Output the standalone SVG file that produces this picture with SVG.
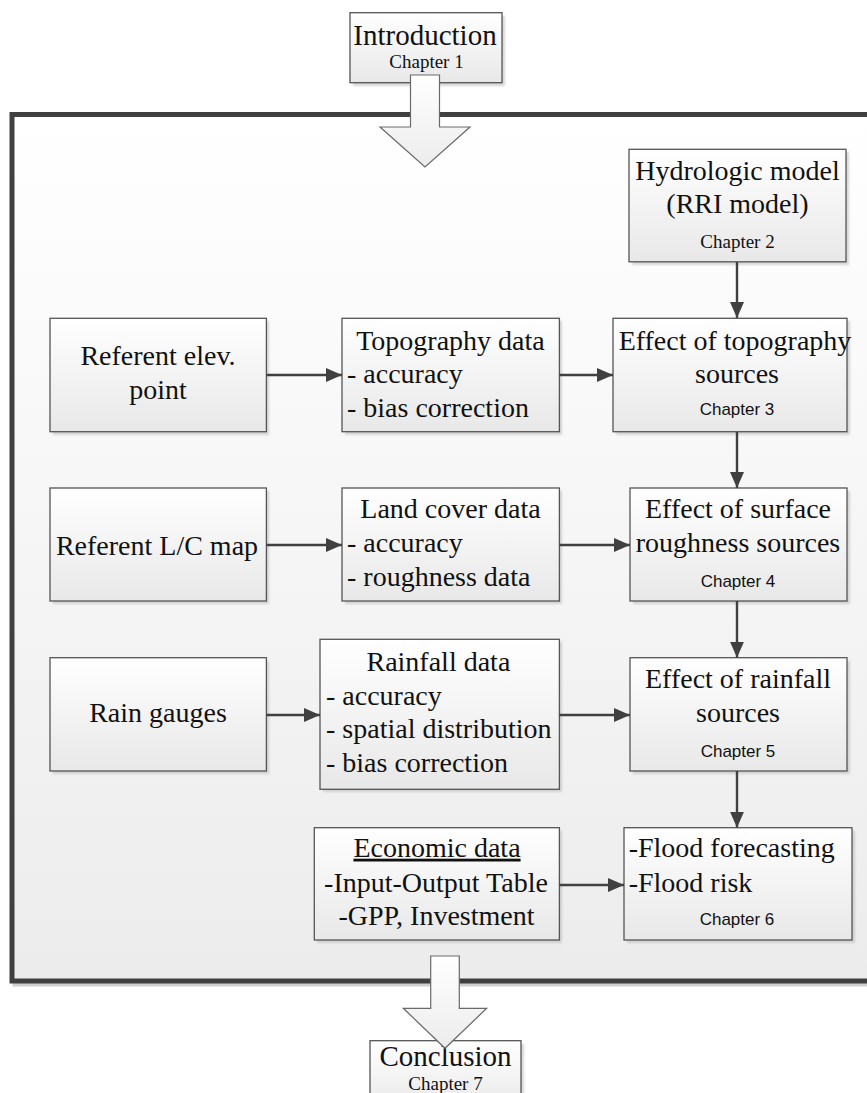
<svg xmlns="http://www.w3.org/2000/svg" width="867" height="1093" viewBox="0 0 867 1093">
<style>
.t{font-family:"Liberation Serif","Times New Roman",serif;font-size:28px;fill:#111}
.c{text-anchor:middle}
.ch{font-family:"Liberation Serif","Times New Roman",serif;font-size:19px;fill:#111}
.cs{font-family:"Liberation Sans",Arial,sans-serif;font-size:17px;fill:#111;text-anchor:middle}
.box{fill:url(#boxg);stroke:#555;stroke-width:1.3}
.sh{fill:#b8b8b8;opacity:.55;filter:url(#blur)}
.big{fill:url(#arrg);stroke:#6a6a6a;stroke-width:1.2}
.con{stroke:#404040;stroke-width:2.4;fill:none;marker-end:url(#ah)}
</style>
<defs>
<linearGradient id="boxg" x1="0" y1="0" x2="0" y2="1"><stop offset="0" stop-color="#ffffff"/><stop offset="1" stop-color="#e8e8e8"/></linearGradient>
<linearGradient id="frameg" x1="0" y1="0" x2="0" y2="1"><stop offset="0" stop-color="#ffffff"/><stop offset="1" stop-color="#ececec"/></linearGradient>
<linearGradient id="arrg" x1="0" y1="0" x2="0" y2="1"><stop offset="0" stop-color="#ffffff"/><stop offset="1" stop-color="#ececec"/></linearGradient>
<filter id="blur" x="-10%" y="-10%" width="120%" height="120%"><feGaussianBlur stdDeviation="1.2"/></filter>
<marker id="ah" markerUnits="userSpaceOnUse" markerWidth="17" markerHeight="14" refX="16" refY="7" orient="auto"><path d="M0,0 L16,7 L0,14 z" fill="#404040"/></marker>
</defs>

<g id="frame">
<rect x="15" y="117" width="900" height="867" fill="none" stroke="#cfcfcf" stroke-width="5"/>
<rect x="12" y="114.5" width="900" height="866.5" fill="url(#frameg)" stroke="#404040" stroke-width="5"/>
</g>

<g id="introduction">
<rect class="sh" x="353" y="16" width="152" height="70"/>
<rect class="box" x="350" y="12.7" width="152" height="70"/>
<text class="t c" x="425" y="45" style="font-size:29px">Introduction</text>
<text class="ch c" x="426.5" y="68">Chapter 1</text>
</g>

<g id="hydrologic">
<rect class="sh" x="632" y="152" width="217" height="113"/>
<rect class="box" x="629" y="149.3" width="217" height="112.5"/>
<text class="t c" x="737.5" y="180">Hydrologic model</text>
<text class="t c" x="737.5" y="212.7">(RRI model)</text>
<text class="ch c" x="737.5" y="248">Chapter 2</text>
</g>

<g id="referent-elev">
<rect class="sh" x="53" y="321" width="216" height="114"/>
<rect class="box" x="50" y="318.3" width="216.4" height="113.4"/>
<text class="t c" x="158" y="365">Referent elev.</text>
<text class="t c" x="158" y="399">point</text>
</g>

<g id="topography-data">
<rect class="sh" x="345" y="321" width="217" height="114"/>
<rect class="box" x="342" y="318.3" width="217.4" height="113.4"/>
<text class="t c" x="450.5" y="350">Topography data</text>
<text class="t" x="347" y="382.7">- accuracy</text>
<text class="t" x="347" y="416.7">- bias correction</text>
</g>

<g id="effect-topography">
<rect class="sh" x="616" y="321" width="234" height="114"/>
<rect class="box" x="613" y="318.3" width="234" height="113.4"/>
<text class="t c" x="735" y="350">Effect of topography</text>
<text class="t c" x="737" y="382.7">sources</text>
<text class="cs" x="737" y="415">Chapter 3</text>
</g>

<g id="referent-lc">
<rect class="sh" x="53" y="491" width="216" height="113"/>
<rect class="box" x="50" y="488" width="216.4" height="113"/>
<text class="t c" x="157" y="555">Referent L/C map</text>
</g>

<g id="land-cover-data">
<rect class="sh" x="345" y="491" width="217" height="113"/>
<rect class="box" x="342" y="488" width="217.4" height="113"/>
<text class="t c" x="450.5" y="518.3">Land cover data</text>
<text class="t" x="347" y="551.7">- accuracy</text>
<text class="t" x="347" y="585.7">- roughness data</text>
</g>

<g id="effect-surface">
<rect class="sh" x="633" y="491" width="217" height="113"/>
<rect class="box" x="630" y="488" width="217" height="113"/>
<text class="t c" x="738" y="518.3">Effect of surface</text>
<text class="t c" x="738" y="551.7">roughness sources</text>
<text class="cs" x="738" y="586.7">Chapter 4</text>
</g>

<g id="rain-gauges">
<rect class="sh" x="53" y="661" width="216" height="113"/>
<rect class="box" x="50" y="657.7" width="216.4" height="113.3"/>
<text class="t c" x="158" y="721.7">Rain gauges</text>
</g>

<g id="rainfall-data">
<rect class="sh" x="323" y="642" width="239" height="150"/>
<rect class="box" x="320" y="639.3" width="239.4" height="150"/>
<text class="t c" x="438.4" y="671">Rainfall data</text>
<text class="t" x="326" y="705">- accuracy</text>
<text class="t" x="326" y="738.3">- spatial distribution</text>
<text class="t" x="326" y="772">- bias correction</text>
</g>

<g id="effect-rainfall">
<rect class="sh" x="633" y="661" width="217" height="113"/>
<rect class="box" x="630" y="657.7" width="217" height="113.3"/>
<text class="t c" x="738" y="688.3">Effect of rainfall</text>
<text class="t c" x="738" y="721.7">sources</text>
<text class="cs" x="738" y="756.7">Chapter 5</text>
</g>

<g id="economic-data">
<rect class="sh" x="317" y="831" width="245" height="112"/>
<rect class="box" x="314.3" y="827.7" width="245.1" height="112.3"/>
<text class="t c" x="437" y="856.7" text-decoration="underline">Economic data</text>
<text class="t c" x="436" y="891.7">-Input-Output Table</text>
<text class="t c" x="436.5" y="925">-GPP, Investment</text>
</g>

<g id="flood">
<rect class="sh" x="627" y="831" width="228" height="112"/>
<rect class="box" x="624" y="827.7" width="228" height="112.3"/>
<text class="t" x="628.7" y="856.7">-Flood forecasting</text>
<text class="t" x="628.7" y="891.7">-Flood risk</text>
<text class="cs" x="737" y="925">Chapter 6</text>
</g>

<g id="conclusion">
<rect class="sh" x="373" y="1044" width="151" height="70"/>
<rect class="box" x="370" y="1040.7" width="151" height="70"/>
<text class="t c" x="445.5" y="1065.7" style="font-size:29px">Conclusion</text>
<text class="ch c" x="445.5" y="1090">Chapter 7</text>
</g>

<g id="connectors">
<line class="con" x1="737" y1="262" x2="737" y2="318"/>
<line class="con" x1="737" y1="432" x2="737" y2="488"/>
<line class="con" x1="737" y1="601" x2="737" y2="657.7"/>
<line class="con" x1="737" y1="771" x2="737" y2="827.7"/>
<line class="con" x1="266.4" y1="375" x2="342" y2="375"/>
<line class="con" x1="559.4" y1="375" x2="613" y2="375"/>
<line class="con" x1="266.4" y1="545" x2="342" y2="545"/>
<line class="con" x1="559.4" y1="545" x2="630" y2="545"/>
<line class="con" x1="266.4" y1="715" x2="320" y2="715"/>
<line class="con" x1="559.4" y1="715" x2="630" y2="715"/>
<line class="con" x1="559.4" y1="885" x2="624" y2="885"/>
<polygon class="big" points="410.5,75 439.5,75 439.5,127 470,127 425,167 380,127 410.5,127"/>
<polygon class="big" points="430.7,956 459.3,956 459.3,1008.3 486.7,1008.3 445,1048.3 403.3,1008.3 430.7,1008.3"/>
</g>
</svg>
